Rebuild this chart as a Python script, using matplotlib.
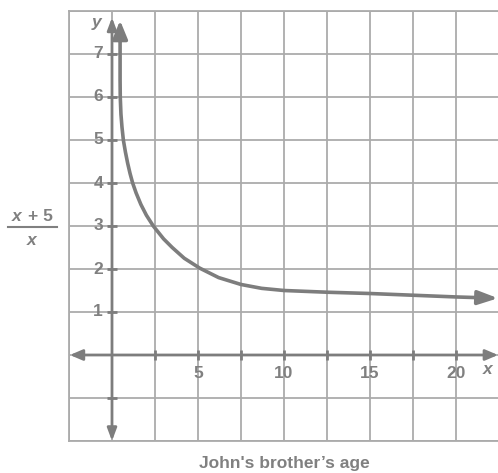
import numpy as np
import matplotlib.pyplot as plt

plt.rcParams['font.family'] = ['Liberation Sans', 'DejaVu Sans']

# curve: (x + 5) / x
curve_x = [0.47, 0.47, 0.47, 0.48, 0.52, 0.58, 0.66, 0.78, 0.91, 1.05, 1.2, 1.4, 1.68,
           2.0, 2.4, 3.0, 3.5, 4.2, 5.1, 6.2, 7.5, 8.7, 10, 12.5, 15, 17.5, 20, 21.6]
curve_y = [7.3, 6.8, 6.4, 6.0, 5.6, 5.3, 5.0, 4.72, 4.46, 4.22, 4.0, 3.77, 3.5,
           3.25, 3.0, 2.7, 2.5, 2.25, 2.02, 1.8, 1.64, 1.55, 1.5, 1.46, 1.43, 1.39, 1.35, 1.33]
curve_top = (0.47, 7.78)
curve_end = (22.44, 1.32)

x_labels = [5, 10, 15, 20]
x_marks = [2.5, 5, 7.5, 10, 12.5, 15, 17.5, 20]
y_labels = [1, 2, 3, 4, 5, 6, 7]
y_marks = [-1, 1, 2, 3, 4, 5, 6, 7]

gray = '#7d7d7d'
grid_c = '#ababab'
txt_c = '#808080'
fs = 12.5

fig = plt.figure(figsize=(4.98, 4.73), dpi=100)
ax = fig.add_axes([69 / 498, 32 / 473, 429 / 498, 430 / 473])
ax.set_xlim(-2.5, 22.44)
ax.set_ylim(-2, 8)
ax.set_xticks(np.arange(-2.5, 22.5, 2.5))
ax.set_yticks(np.arange(-2, 9, 1))
ax.grid(True, color=grid_c, linewidth=1.3)
ax.tick_params(length=0, labelbottom=False, labelleft=False)
for s in ['left', 'top', 'bottom']:
    ax.spines[s].set_color(grid_c)
    ax.spines[s].set_linewidth(1.3)
ax.spines['right'].set_visible(False)

# axes with arrows
ax.annotate('', xy=(22.44, 0), xytext=(-2.45, 0),
            arrowprops=dict(arrowstyle='<|-|>,head_length=0.75,head_width=0.32',
                            color=gray, lw=2, shrinkA=0, shrinkB=0),
            annotation_clip=False)
ax.annotate('', xy=(0, 7.85), xytext=(0, -2),
            arrowprops=dict(arrowstyle='<|-|>,head_length=0.75,head_width=0.28',
                            color=gray, lw=2, shrinkA=0, shrinkB=0),
            annotation_clip=False)

ax.plot(x_marks, [0] * len(x_marks), ls='none', marker='|', ms=7, mew=2, color=gray)
ax.plot([0] * len(y_marks), y_marks, ls='none', marker='_', ms=7, mew=2, color=gray)

# curve
ax.plot(curve_x, curve_y, color=gray, lw=2.6, solid_capstyle='butt',
        solid_joinstyle='round')
ax.annotate('', xy=curve_top, xytext=(curve_x[0], curve_y[0]),
            arrowprops=dict(arrowstyle='-|>,head_length=1.1,head_width=0.45',
                            color=gray, lw=2.6, shrinkA=0, shrinkB=0))
ax.annotate('', xy=curve_end, xytext=(curve_x[-1], curve_y[-1]),
            arrowprops=dict(arrowstyle='-|>,head_length=1.2,head_width=0.42',
                            color=gray, lw=2.6, shrinkA=0, shrinkB=0),
            annotation_clip=False)

# tick labels
for v in x_labels:
    ax.annotate(str(v), (v, 0), xytext=(0, -19), textcoords='offset pixels',
                ha='center', va='center', fontsize=fs, fontweight='bold', color=txt_c)
for v in y_labels:
    ax.annotate(str(v), (0, v), xytext=(-9, 0), textcoords='offset pixels',
                ha='right', va='center', fontsize=fs, fontweight='bold', color=txt_c)

ax.text(488, 473 - 369, 'x', transform=None, ha='center', va='center', fontsize=fs,
        fontweight='bold', fontstyle='italic', color=txt_c)
ax.text(97, 473 - 22, 'y', transform=None, ha='center', va='center', fontsize=fs,
        fontweight='bold', fontstyle='italic', color=txt_c)

# left fraction label
fig.text(17 / 498, 1 - 216 / 473, 'x', ha='center', va='center', fontsize=fs,
         fontweight='bold', fontstyle='italic', color=txt_c)
fig.text(40 / 498, 1 - 216 / 473, '+ 5', ha='center', va='center', fontsize=fs,
         fontweight='bold', color=txt_c)
fig.add_artist(plt.Line2D([8 / 498, 57 / 498], [1 - 227 / 473, 1 - 227 / 473],
                          color=txt_c, lw=1.5))
fig.text(32 / 498, 1 - 240 / 473, 'x', ha='center', va='center', fontsize=fs,
         fontweight='bold', fontstyle='italic', color=txt_c)

fig.text(284 / 498, 1 - 463 / 473, 'John\'s brother’s age', ha='center', va='center',
         fontsize=fs, fontweight='bold', color=txt_c)

fig.savefig('out.png', dpi=100)
